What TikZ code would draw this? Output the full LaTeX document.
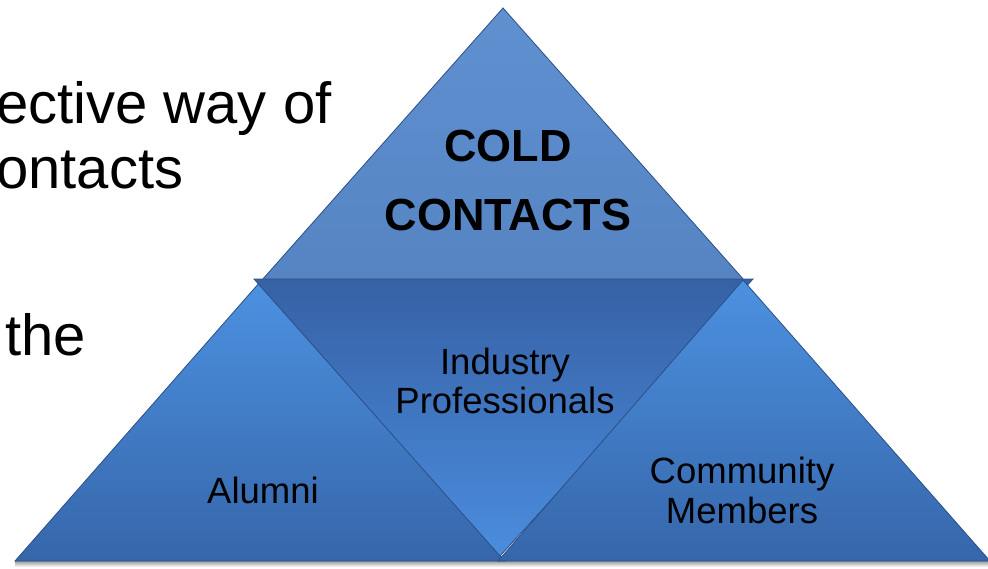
\documentclass[tikz,border=0pt]{standalone}
\usepackage{fontspec}
\setmainfont{Liberation Sans}
\definecolor{capTop}{HTML}{5F90D0}
\definecolor{capBot}{HTML}{5684C3}
\definecolor{midTop}{HTML}{3661A5}
\definecolor{midBot}{HTML}{4B8DDE}
\definecolor{sideTop}{HTML}{4C91E0}
\definecolor{sideBot}{HTML}{3666AA}
\definecolor{rimBlue}{HTML}{2C4F86}

\begin{document}
\begin{tikzpicture}[x=1pt, y=-1pt,
  tri/.style={draw=rimBlue, line width=0.8pt, line join=miter},
  label/.style={inner sep=0pt, align=center, text=black},
  slide/.style={inner sep=0pt, anchor=base west, font=\fontsize{58}{65}\selectfont}
]
\useasboundingbox (0,0) rectangle (988,568);

% bullet text running off the left edge
\node[slide] (lineA) at (-4,123) {ective way of};
\node[slide] (lineB) at (-4,188) {ontacts};
\node[slide] (lineC) at (5,355) {the};

% shadow under the base
\shade[top color=black!40, bottom color=white] (15,561) rectangle (988,567);

% pyramid pieces
\shade[tri, top color=capTop, bottom color=capBot]
  (503,8) -- (262,280) -- (744,280) -- cycle;
\shade[tri, top color=sideTop, bottom color=sideBot]
  (260,282) -- (15,561) -- (505,561) -- cycle;
\shade[tri, top color=midTop, bottom color=midBot]
  (254,279) -- (753,279) -- (500,556) -- cycle;
\shade[tri, top color=sideTop, bottom color=sideBot]
  (743,280) -- (498,561) -- (990,561) -- cycle;

% labels
\node[label, font=\bfseries\fontsize{45}{69}\selectfont] (cold) at (508,181) {COLD\\CONTACTS};
\node[label, font=\fontsize{36.5}{39}\selectfont] (industry) at (505,381) {Industry\\Professionals};
\node[label, font=\fontsize{36.5}{39}\selectfont] (alumni) at (263,490) {Alumni};
\node[label, font=\fontsize{36.5}{40}\selectfont] (community) at (742,490) {Community\\Members};
\end{tikzpicture}
\end{document}
